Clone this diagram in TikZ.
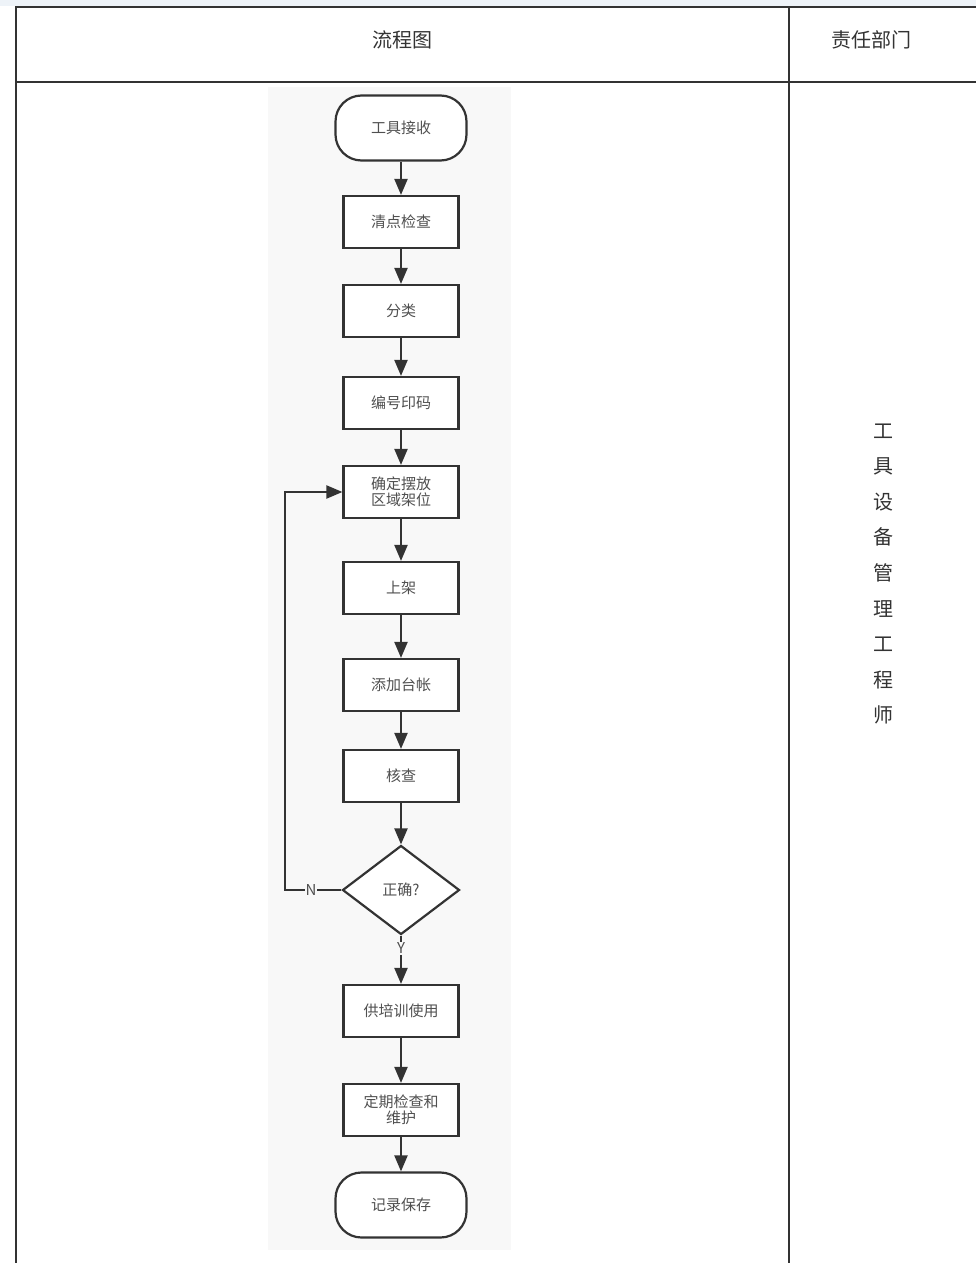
\documentclass[tikz,border=0pt]{standalone}
\usepackage{fontspec}
\newfontfamily\cjk{Noto Sans CJK SC}
\usetikzlibrary{shapes.geometric,arrows.meta}
\definecolor{linec}{HTML}{333333}
\definecolor{textc}{HTML}{505050}
\definecolor{bgc}{HTML}{F8F8F8}
\definecolor{stripc}{HTML}{EEF3F8}
\tikzset{
  box/.style={draw=linec,line width=2.2pt,fill=white,minimum width=115pt,minimum height=52pt,inner sep=2pt,align=center,font=\cjk\fontsize{15}{18}\selectfont,text=textc},
  term/.style={draw=linec,line width=2.2pt,fill=white,rounded corners=26pt,minimum width=131pt,minimum height=65pt,font=\cjk\fontsize{15}{18}\selectfont,text=textc},
  dec/.style={draw=linec,line width=2.2pt,fill=white,diamond,aspect=1.31,minimum width=117pt,minimum height=89pt,inner sep=0pt,font=\cjk\fontsize{15}{18}\selectfont,text=textc},
  flow/.style={draw=linec,line width=2.2pt,-{Triangle[length=16pt,width=13pt]}},
  tbl/.style={draw=linec,line width=1.6pt},
  lbl/.style={font=\cjk\fontsize{15}{18}\selectfont,text=textc,fill=bgc,inner sep=1pt},
  head/.style={font=\cjk\fontsize{20}{24}\selectfont,text=black!80}
}
\begin{document}
\begin{tikzpicture}[x=1pt,y=-1pt]
\useasboundingbox (0,0) rectangle (976,1263);
\fill[white] (0,0) rectangle (976,1263);
\fill[stripc] (0,0) rectangle (976,6);
\fill[bgc] (268,87) rectangle (511,1250);
% table
\draw[tbl] (16,1263) -- (16,7) -- (976,7);
\draw[tbl] (16,82) -- (976,82);
\draw[tbl] (789,7) -- (789,1263);
\node[head] (h1) at (402,40) {流程图};
\node[head] (h2) at (871,40) {责任部门};
% flowchart
\node[term] (n1) at (401,128) {工具接收};
\node[box] (n2) at (401,222) {清点检查};
\node[box] (n3) at (401,311) {分类};
\node[box] (n4) at (401,403) {编号印码};
\node[box] (n5) at (401,492) {确定摆放\\[-2pt]区域架位};
\node[box] (n6) at (401,588) {上架};
\node[box] (n7) at (401,685) {添加台帐};
\node[box] (n8) at (401,776) {核查};
\node[dec] (n9) at (401,890) {正确?};
\node[box] (n10) at (401,1011) {供培训使用};
\node[box] (n11) at (401,1110) {定期检查和\\[-2pt]维护};
\node[term] (n12) at (401,1205) {记录保存};
\draw[flow] (n1) -- (n2);
\draw[flow] (n2) -- (n3);
\draw[flow] (n3) -- (n4);
\draw[flow] (n4) -- (n5);
\draw[flow] (n5) -- (n6);
\draw[flow] (n6) -- (n7);
\draw[flow] (n7) -- (n8);
\draw[flow] (n8) -- (n9);
\draw[flow] (n9) -- (n10);
\node[lbl] (ly) at (401,948) {Y};
\coordinate (c1) at (285,890);
\coordinate (c2) at (285,492);
\draw[flow] (n9.west) -- (c1) -- (c2) -- (n5.west);
\node[lbl] (ln) at (311,890) {N};
\draw[flow] (n10) -- (n11);
\draw[flow] (n11) -- (n12);
% responsible
\node[font=\cjk\fontsize{20}{24}\selectfont,text=black!80,align=center] (r) at (883,574)
 {工\\[11.6pt]具\\[11.6pt]设\\[11.6pt]备\\[11.6pt]管\\[11.6pt]理\\[11.6pt]工\\[11.6pt]程\\[11.6pt]师};
\end{tikzpicture}
\end{document}
